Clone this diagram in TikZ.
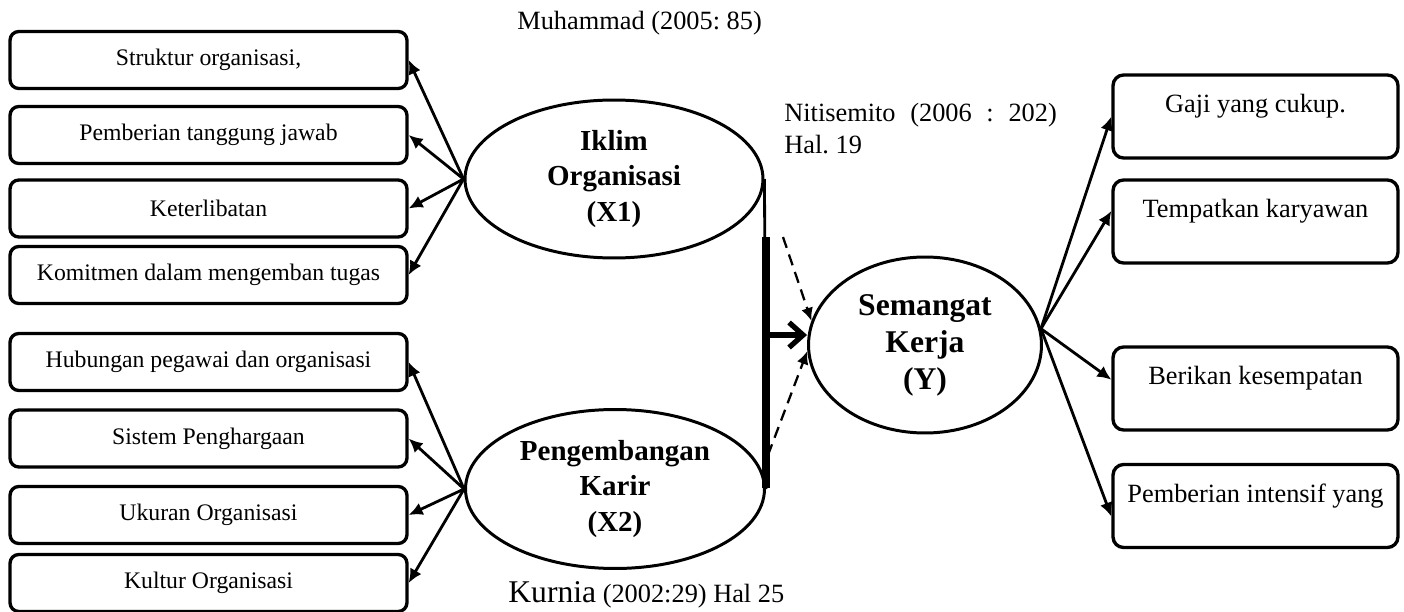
\documentclass[tikz,border=0pt]{standalone}
\usepackage{fontspec}
\setmainfont{Liberation Serif}
\usetikzlibrary{positioning,arrows.meta,shapes.geometric}
\tikzset{
  flowarrow/.style={-{Latex[length=2.8mm,width=2.6mm]}, line width=1.6pt},
  dasharrow/.style={-{Latex[length=2.6mm,width=2.4mm]}, line width=1.3pt, dash pattern=on 6.5pt off 4pt},
  bigarrow/.style={-{Straight Barb[length=2.8mm,width=5mm]}, line width=3pt},
  indbox/.style={draw, rounded corners=5pt, line width=1.9pt, minimum width=7.94cm, minimum height=1.14cm, align=center, font=\fontsize{13.5}{16}\selectfont},
  outbox/.style={draw, rounded corners=6pt, line width=1.9pt, minimum width=5.7cm, minimum height=1.66cm, align=center, font=\fontsize{15}{18}\selectfont},
  varnode/.style={draw, ellipse, line width=1.7pt, inner sep=0pt, align=center, font=\bfseries\fontsize{16.5}{20}\selectfont},
  citenote/.style={inner sep=0pt, font=\fontsize{15}{18}\selectfont\frenchspacing}
}
\begin{document}
\begin{tikzpicture}[x=0.02cm, y=-0.02cm]
  \useasboundingbox (0,0) rectangle (1404,612);
  % indikator X1
  \node[indbox] (s1) at (208.5,60) {Struktur organisasi,};
  \node[indbox] (s2) at (208.5,135) {Pemberian tanggung jawab};
  \node[indbox] (s3) at (208.5,208.5) {Keterlibatan};
  \node[indbox] (s4) at (208.5,275) {Komitmen dalam mengemban tugas};
  % indikator X2
  \node[indbox] (p1) at (208.5,362) {Hubungan pegawai dan organisasi};
  \node[indbox] (p2) at (208.5,438.5) {Sistem Penghargaan};
  \node[indbox] (p3) at (208.5,515) {Ukuran Organisasi};
  \node[indbox] (p4) at (208.5,583) {Kultur Organisasi};
  % variabel
  \node[varnode, minimum width=5.96cm, minimum height=3.16cm] (x1) at (614,179) {Iklim\\Organisasi\\(X1)};
  \node[varnode, minimum width=5.98cm, minimum height=3.18cm] (x2) at (615,489) {Pengembangan\\Karir\\(X2)};
  \node[varnode, minimum width=4.66cm, minimum height=3.52cm, font=\bfseries\fontsize{18}{21}\selectfont] (y) at (925,345) {Semangat\\Kerja\\(Y)};
  % indikator Y
  \node[outbox] (k1) at (1255.5,116.5) {Gaji yang cukup.\\[-9pt]\strut};
  \node[outbox] (k2) at (1255.5,221.5) {Tempatkan karyawan\\[-9pt]\strut};
  \node[outbox] (k3) at (1255.5,388.5) {Berikan kesempatan\\[-9pt]\strut};
  \node[outbox] (k4) at (1255.5,506) {Pemberian intensif yang\\[-9pt]\strut};
  % sumber
  \node[citenote, anchor=base west] (cm) at (517,30) {Muhammad (2005: 85)};
  \node[citenote, anchor=north west, align=left] (cn) at (784,103) {\makebox[5.45cm][s]{Nitisemito (2006 : 202)}\\Hal. 19};
  \node[citenote, anchor=base west] (ck) at (508,602) {{\fontsize{18}{21}\selectfont Kurnia} (2002:29) Hal 25};
  \draw[flowarrow] (x1.west) -- (s1.east);
  \draw[flowarrow] (x1.west) -- (s2.east);
  \draw[flowarrow] (x1.west) -- (s3.east);
  \draw[flowarrow] (x1.west) -- (s4.east);
  \draw[flowarrow] (x2.west) -- (p1.east);
  \draw[flowarrow] (x2.west) -- (p2.east);
  \draw[flowarrow] (x2.west) -- (p3.east);
  \draw[flowarrow] (x2.west) -- (p4.east);
  % garis penghubung X1, X2 ke Y
  \coordinate (bartop) at (766,237);
  \coordinate (barbot) at (766,488);
  \coordinate (barmid) at (768,335);
  \coordinate (dtop) at (783,237);
  \coordinate (dbot) at (768,455);
  \draw[line width=1.6pt] (x1.east) -- (x2.east);
  \draw[line width=4pt] (bartop) -- (barbot);
  \draw[bigarrow] (barmid) -- (barmid -| y.west);
  \draw[dasharrow] (dtop) -- (y.168);
  \draw[dasharrow] (dbot) -- (y.183);
  \draw[flowarrow] (y.8) -- (k1.west);
  \draw[flowarrow] (y.8) -- ([yshift=6pt]k2.west);
  \draw[flowarrow] (y.8) -- ([yshift=5pt]k3.west);
  \draw[flowarrow] (y.8) -- ([yshift=-6pt]k4.west);
\end{tikzpicture}
\end{document}
